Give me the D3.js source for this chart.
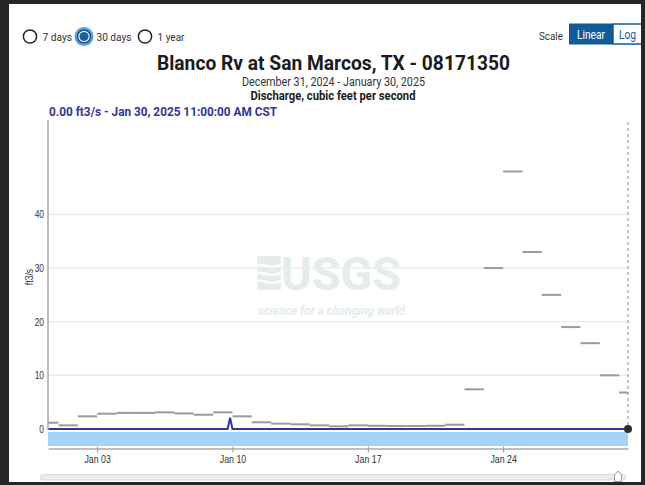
<!DOCTYPE html>
<html>
<head>
<meta charset="utf-8">
<script src="https://cdn.jsdelivr.net/npm/d3@7"></script>
<style>
  body { margin: 0; background: #262626; }
  svg { display: block; font-family: Roboto, "Noto Sans", sans-serif; }
</style>
</head>
<body>
<div id="chart"></div>
<script>
// daily median statistic (gray dashes), one value per calendar day
var medianDays = ["2024-12-31", "2025-01-01", "2025-01-02", "2025-01-03", "2025-01-04", "2025-01-05",
  "2025-01-06", "2025-01-07", "2025-01-08", "2025-01-09", "2025-01-10", "2025-01-11", "2025-01-12",
  "2025-01-13", "2025-01-14", "2025-01-15", "2025-01-16", "2025-01-17", "2025-01-18", "2025-01-19",
  "2025-01-20", "2025-01-21", "2025-01-22", "2025-01-23", "2025-01-24", "2025-01-25", "2025-01-26",
  "2025-01-27", "2025-01-28", "2025-01-29", "2025-01-30"];
var medianValues = [1.17, 0.68, 2.36, 2.85, 3.0, 3.0, 3.1, 2.9, 2.66, 3.1, 2.36, 1.25, 1.0,
  0.87, 0.68, 0.5, 0.68, 0.6, 0.55, 0.55, 0.6, 0.8, 7.4, 30, 48, 33, 25, 19, 16, 10, 6.8];

// measured discharge
var flowTimes = ["2024-12-31T11:00", "2025-01-09T18:00", "2025-01-09T21:00", "2025-01-10T00:00", "2025-01-30T11:00"];
var flowValues = [0, 0, 2.1, 0, 0];

var xTickDates = ["2025-01-03", "2025-01-10", "2025-01-17", "2025-01-24"];
var yTickValues = [0, 10, 20, 30, 40];

var rangeOptions = ["7 days", "30 days", "1 year"];
var selectedRange = "30 days";

var W = 645, H = 485;
var plot = { left: 48, right: 628, top: 120, bottom: 429 };

var parseDay = d3.timeParse("%Y-%m-%d");
var parseTime = d3.timeParse("%Y-%m-%dT%H:%M");

var svg = d3.select("#chart").append("svg")
  .attr("width", W)
  .attr("height", H);

svg.append("rect").attr("width", W).attr("height", H).attr("fill", "#262626");
svg.append("rect").attr("x", 9).attr("y", 4).attr("width", 632).attr("height", 478).attr("fill", "#fff");

// squeeze text a bit, the screenshot fonts are narrow
function squeeze(sel, k) {
  sel.each(function () {
    var w = this.getComputedTextLength();
    d3.select(this).attr("textLength", w * k).attr("lengthAdjust", "spacingAndGlyphs");
  });
}
function fitTo(sel, width) {
  sel.attr("textLength", width).attr("lengthAdjust", "spacingAndGlyphs");
}

var tStart = parseTime(flowTimes[0]);
var tEnd = parseTime(flowTimes[flowTimes.length - 1]);

var x = d3.scaleTime()
  .domain([tStart, tEnd])
  .range([plot.left, plot.right]);

var y = d3.scaleLinear()
  .domain([0, d3.max(medianValues) * 1.2])
  .range([plot.bottom, plot.top]);

// ---- header controls
var radioX = [30, 84, 145];
var radioLabelW = [29.5, 35, 27];
var radios = svg.append("g").attr("class", "radios");
rangeOptions.forEach(function (label, i) {
  var g = radios.append("g").attr("transform", "translate(" + radioX[i] + ",36.5)");
  if (label === selectedRange) {
    g.append("circle").attr("r", 9.5).attr("fill", "#4aa0f2");
    g.append("circle").attr("r", 7.3).attr("fill", "#fff");
    g.append("circle").attr("r", 6.5).attr("fill", "none").attr("stroke", "#123f6e").attr("stroke-width", 1.5);
    g.append("circle").attr("r", 4.6).attr("fill", "#1560a3");
  } else {
    g.append("circle").attr("r", 6.6).attr("fill", "#fff").attr("stroke", "#222").attr("stroke-width", 1.5);
  }
  var t = g.append("text")
    .attr("x", 12.5)
    .attr("y", 4)
    .attr("font-size", "11.5px")
    .attr("fill", "#333")
    .text(label);
  fitTo(t, radioLabelW[i]);
});

var scaleText = svg.append("text")
  .attr("x", 539).attr("y", 39.5)
  .attr("font-size", "11.5px").attr("fill", "#333")
  .text("Scale");
fitTo(scaleText, 24);

svg.append("rect")
  .attr("x", 569).attr("y", 23.5).attr("width", 44).attr("height", 21)
  .attr("fill", "#115b9b");
var linText = svg.append("text")
  .attr("x", 591).attr("y", 39).attr("text-anchor", "middle")
  .attr("font-size", "12px").attr("fill", "#fff")
  .text("Linear");
fitTo(linText, 28);
svg.append("rect")
  .attr("x", 613).attr("y", 24).attr("width", 32).attr("height", 20)
  .attr("fill", "#fff").attr("stroke", "#115b9b").attr("stroke-width", 1.5);
var logText = svg.append("text")
  .attr("x", 619).attr("y", 39)
  .attr("font-size", "12px").attr("fill", "#115b9b")
  .text("Log");
fitTo(logText, 17);

// ---- titles
var title = svg.append("text")
  .attr("x", 333.5).attr("y", 70).attr("text-anchor", "middle")
  .attr("font-size", "21px").attr("font-weight", "bold").attr("fill", "#1b1b1b")
  .text("Blanco Rv at San Marcos, TX - 08171350");
fitTo(title, 353);

var sub = svg.append("text")
  .attr("x", 333.5).attr("y", 85.5).attr("text-anchor", "middle")
  .attr("font-size", "12px").attr("fill", "#333")
  .text("December 31, 2024 - January 30, 2025");
fitTo(sub, 183);

var param = svg.append("text")
  .attr("x", 333).attr("y", 99.5).attr("text-anchor", "middle")
  .attr("font-size", "12px").attr("font-weight", "bold").attr("fill", "#1b1b1b")
  .text("Discharge, cubic feet per second");
fitTo(param, 165);

var info = svg.append("text")
  .attr("x", 49).attr("y", 116)
  .attr("font-size", "13px").attr("font-weight", "bold").attr("fill", "#33339c")
  .text(d3.format(".2f")(flowValues[flowValues.length - 1]) + " ft3/s - Jan 30, 2025 11:00:00 AM CST");
fitTo(info, 228);

// ---- watermark
var wm = svg.append("g").attr("class", "watermark");
wm.append("rect").attr("x", 257).attr("y", 256).attr("width", 24).attr("height", 34).attr("fill", "#e4ede9");
[267, 275, 283].forEach(function (yy) {
  wm.append("path")
    .attr("d", "M255," + yy + " C262," + (yy - 7) + " 268," + (yy + 5) + " 283," + (yy - 3))
    .attr("fill", "none").attr("stroke", "#fff").attr("stroke-width", 2.2);
});
var usgs = wm.append("text")
  .attr("x", 281).attr("y", 290)
  .attr("font-size", "46px").attr("font-weight", "bold").attr("fill", "#e4ede9")
  .text("USGS");
fitTo(usgs, 120);
var sci = wm.append("text")
  .attr("x", 258).attr("y", 315)
  .attr("font-size", "12px").attr("font-weight", "bold").attr("font-style", "italic").attr("fill", "#e4ede9")
  .text("science for a changing world");
fitTo(sci, 147);

// ---- grid
svg.append("g").attr("class", "grid")
  .selectAll("line")
  .data(yTickValues.filter(function (v) { return v > 0; }))
  .enter().append("line")
  .attr("x1", plot.left).attr("x2", plot.right)
  .attr("y1", function (d) { return y(d); })
  .attr("y2", function (d) { return y(d); })
  .attr("stroke", "#ececec").attr("stroke-width", 1.5);

// ---- median dashes
var medianData = medianDays.map(function (d, i) {
  var d0 = parseDay(d);
  return { start: d0, end: d3.timeDay.offset(d0, 1), value: medianValues[i] };
});
svg.append("g").attr("class", "medians")
  .selectAll("line")
  .data(medianData)
  .enter().append("line")
  .attr("x1", function (d) { return x(d.start < tStart ? tStart : d.start); })
  .attr("x2", function (d) { return x(d.end > tEnd ? tEnd : d.end); })
  .attr("y1", function (d) { return y(d.value); })
  .attr("y2", function (d) { return y(d.value); })
  .attr("stroke", "#9a9a9a").attr("stroke-width", 2);

// light blue band under the plot
svg.append("rect")
  .attr("x", plot.left).attr("y", 432)
  .attr("width", plot.right - plot.left).attr("height", 14)
  .attr("fill", "#a3d2fb");

// ---- discharge line
var flowData = flowTimes.map(function (t, i) { return { t: parseTime(t), v: flowValues[i] }; });
var line = d3.line()
  .x(function (d) { return x(d.t); })
  .y(function (d) { return y(d.v); });
svg.append("path")
  .datum(flowData)
  .attr("d", line)
  .attr("fill", "none")
  .attr("stroke", "#35359a")
  .attr("stroke-width", 2);

// cursor line + point
svg.append("line")
  .attr("x1", x(tEnd)).attr("x2", x(tEnd))
  .attr("y1", 122).attr("y2", y(0))
  .attr("stroke", "#888").attr("stroke-dasharray", "3,3");
svg.append("circle")
  .attr("cx", x(tEnd)).attr("cy", y(0)).attr("r", 4)
  .attr("fill", "#2e2e3a");

// ---- y axis
svg.append("line")
  .attr("x1", plot.left).attr("x2", plot.left)
  .attr("y1", plot.top).attr("y2", plot.bottom + 1)
  .attr("stroke", "#a8a8a8").attr("stroke-width", 1.5);

var yAxis = svg.append("g")
  .attr("transform", "translate(" + plot.left + ",0)")
  .call(d3.axisLeft(y).tickValues(yTickValues).tickSize(0).tickPadding(4));
yAxis.select(".domain").remove();
yAxis.selectAll("text")
  .attr("font-family", "'Liberation Sans', Arial, sans-serif")
  .attr("font-size", "10.5px")
  .attr("fill", "#333")
  .call(squeeze, 0.8);

var yTitle = svg.append("text")
  .attr("transform", "translate(32.5,277) rotate(-90)")
  .attr("text-anchor", "middle")
  .attr("font-family", "'Liberation Sans', Arial, sans-serif")
  .attr("font-size", "10.5px").attr("fill", "#333")
  .text("ft3/s");
squeeze(yTitle, 0.82);

// ---- x axis
var xAxis = svg.append("g")
  .attr("transform", "translate(0,448.5)")
  .call(d3.axisBottom(x)
    .tickValues(xTickDates.map(parseDay))
    .tickFormat(d3.timeFormat("%b %d"))
    .tickSizeInner(4).tickSizeOuter(0).tickPadding(3));
xAxis.select(".domain").attr("stroke", "#aaa").attr("stroke-width", 1.5);
xAxis.selectAll(".tick line").attr("stroke", "#999").attr("y1", -2);
xAxis.selectAll("text")
  .attr("font-family", "'Liberation Sans', Arial, sans-serif")
  .attr("font-size", "11px")
  .attr("fill", "#333")
  .call(squeeze, 0.8);

// ---- brush slider at the bottom
svg.append("rect")
  .attr("x", 40).attr("y", 474.5).attr("width", 586).attr("height", 5.5).attr("rx", 2.75)
  .attr("fill", "#ececec").attr("stroke", "#dcdcdc");
svg.append("path")
  .attr("d", "M614.5,481.5 L614.5,475 L618,471 L621.5,475 L621.5,481.5 Z")
  .attr("fill", "#fff").attr("stroke", "#999").attr("stroke-width", 1);

// dark frame on the right cuts the Log button
svg.append("rect").attr("x", 641).attr("y", 0).attr("width", 4).attr("height", H).attr("fill", "#262626");
svg.append("rect").attr("x", 0).attr("y", 482).attr("width", W).attr("height", 3).attr("fill", "#262626");
</script>
</body>
</html>
